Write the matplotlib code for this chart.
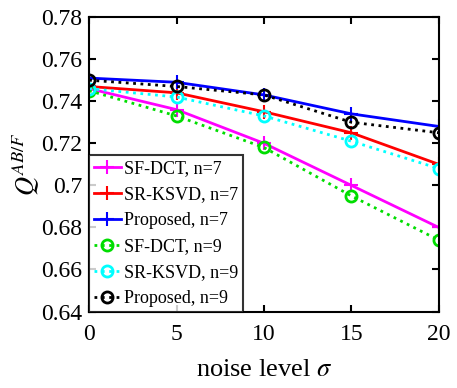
import numpy as np
import matplotlib
matplotlib.use("Agg")
import matplotlib.pyplot as plt

# --- Data ---
noise = [0, 5, 10, 15, 20]
sfdct_n7 = [0.746, 0.736, 0.720, 0.700, 0.680]
srksvd_n7 = [0.747, 0.744, 0.735, 0.725, 0.710]
proposed_n7 = [0.751, 0.749, 0.743, 0.734, 0.728]
sfdct_n9 = [0.745, 0.733, 0.718, 0.695, 0.674]
srksvd_n9 = [0.746, 0.742, 0.733, 0.721, 0.708]
proposed_n9 = [0.750, 0.747, 0.743, 0.730, 0.725]

plt.rcParams['font.family'] = ['Liberation Serif', 'DejaVu Serif']
plt.rcParams['mathtext.fontset'] = 'stix'

fig, ax = plt.subplots(figsize=(4.57, 3.88), dpi=100)
fig.subplots_adjust(left=0.195, right=0.96, bottom=0.197, top=0.956)

ax.plot(noise, sfdct_n7, '-', color='#ff00ff', marker='+', ms=10, mew=1.5, lw=2, label='SF-DCT, n=7')
ax.plot(noise, srksvd_n7, '-', color='#ff0000', marker='+', ms=10, mew=1.5, lw=2, label='SR-KSVD, n=7')
ax.plot(noise, proposed_n7, '-', color='#0000ff', marker='+', ms=10, mew=1.5, lw=2, label='Proposed, n=7')
ax.plot(noise, sfdct_n9, ':', color='#00dd00', marker='o', ms=8, mew=2, mfc='none', lw=2, label='SF-DCT, n=9')
ax.plot(noise, srksvd_n9, ':', color='#00ffff', marker='o', ms=8, mew=2, mfc='none', lw=2, label='SR-KSVD, n=9')
ax.plot(noise, proposed_n9, ':', color='#000000', marker='o', ms=8, mew=2, mfc='none', lw=2, label='Proposed, n=9')

ax.set_xlim(0, 20)
ax.set_ylim(0.64, 0.78)
ax.set_xticks([0, 5, 10, 15, 20])
ax.set_yticks(np.arange(0.64, 0.781, 0.02))
ax.set_yticklabels(['0.64', '0.66', '0.68', '0.7', '0.72', '0.74', '0.76', '0.78'])
ax.tick_params(direction='in', top=True, right=True, labelsize=17, width=1.5, length=5)
ax.tick_params(axis='x', pad=9)
ax.tick_params(axis='y', pad=5)
for s in ax.spines.values():
    s.set_linewidth(1.5)

ax.set_xlabel(r'noise level $\sigma$', fontsize=19, labelpad=10)
ax.set_ylabel(r'$Q^{AB/F}$', fontsize=19, labelpad=0)

leg = ax.legend(loc='lower left', fontsize=13, frameon=True, fancybox=False,
                edgecolor='black', borderaxespad=0, handlelength=1.5,
                handletextpad=0.2, labelspacing=0.5, borderpad=0.25)
leg.get_frame().set_linewidth(1.5)

fig.savefig('out.png', dpi=100)
